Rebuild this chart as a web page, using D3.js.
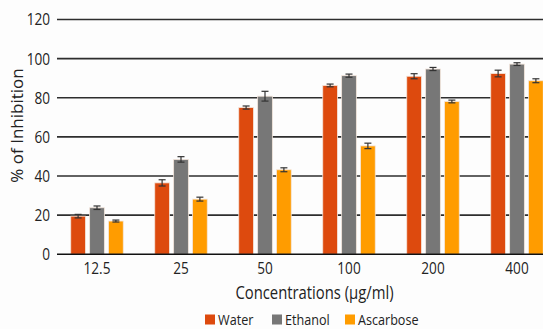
<!DOCTYPE html>
<html>
<head>
<meta charset="utf-8">
<script src="https://cdn.jsdelivr.net/npm/d3@7"></script>
<style>
  html, body { margin: 0; padding: 0; background: #fdfdfd; }
  svg { display: block; }
  text { font-family: "Open Sans", "Noto Sans", sans-serif; fill: #222; }
</style>
</head>
<body>
<svg id="chart" width="543" height="329"></svg>
<script>
// Concentrations tested and the % inhibition measured for each extract
const categories = ["12.5", "25", "50", "100", "200", "400"];
const seriesNames = ["Water", "Ethanol", "Ascarbose"];
const water     = [19.5, 36.5, 75.0, 86.3, 91.0, 92.4];
const ethanol   = [23.8, 48.5, 80.8, 91.3, 94.7, 97.2];
const ascarbose = [17.0, 28.2, 43.2, 55.4, 78.1, 88.7];
const waterErr     = [0.9, 1.6, 0.8, 0.7, 1.3, 1.7];
const ethanolErr   = [0.9, 1.4, 2.5, 0.8, 0.8, 0.7];
const ascarboseErr = [0.5, 1.0, 1.0, 1.4, 0.7, 1.0];
const yTicks = [0, 20, 40, 60, 80, 100, 120];
const colors = ["#dd4a0e", "#777777", "#ff9c00"];

const values = [water, ethanol, ascarbose];
const errors = [waterErr, ethanolErr, ascarboseErr];

const svg = d3.select("#chart");
const plotLeft = 57, plotTop = 19.5, plotBottom = 254.3;

// narrow the lettering horizontally (condensed look)
function condense(sel, k) {
  sel.each(function () {
    const len = this.getComputedTextLength();
    d3.select(this).attr("textLength", len * k).attr("lengthAdjust", "spacingAndGlyphs");
  });
}

const x = d3.scaleBand().domain(categories).range([55, 559]).paddingInner(0).paddingOuter(0);
const y = d3.scaleLinear().domain([0, 120]).range([plotBottom, plotTop]);
const xs = d3.scaleBand().domain(seriesNames).range([0, 52.5]).paddingInner(0.22);
const groupOffset = (x.bandwidth() - 52.5) / 2;

// horizontal gridlines
svg.append("g")
  .selectAll("line")
  .data(yTicks.filter(d => d > 0))
  .join("line")
  .attr("x1", plotLeft).attr("x2", 543)
  .attr("y1", d => y(d)).attr("y2", d => y(d))
  .attr("stroke", "#2e2e2e").attr("stroke-width", 1.6);

// y-axis tick labels
const yAxis = d3.axisLeft(y).tickValues(yTicks).tickSize(0).tickPadding(7);
const gy = svg.append("g").attr("transform", `translate(${plotLeft},0)`).call(yAxis);
gy.select(".domain").remove();
gy.selectAll("text")
  .style("font-family", "'Open Sans', sans-serif")
  .style("font-size", "17px").attr("fill", "#222")
  .call(condense, 0.8);

// bars
const rows = [];
seriesNames.forEach((s, si) => {
  categories.forEach((c, ci) => {
    rows.push({ s, si, c, v: values[si][ci], e: errors[si][ci] });
  });
});

const barG = svg.append("g");
barG.selectAll("rect")
  .data(rows)
  .join("rect")
  .attr("x", d => x(d.c) + groupOffset + xs(d.s))
  .attr("width", xs.bandwidth())
  .attr("y", d => y(d.v))
  .attr("height", d => y(0) - y(d.v))
  .attr("fill", d => colors[d.si])
  .attr("stroke", "#f4e6dc").attr("stroke-width", 0.8);

// error bars
const errG = svg.append("g").attr("stroke", "#333").attr("stroke-width", 1.2);
rows.forEach(d => {
  const cx = x(d.c) + groupOffset + xs(d.s) + xs.bandwidth() / 2;
  const y1 = y(d.v + d.e), y2 = y(d.v - d.e);
  errG.append("line").attr("x1", cx).attr("x2", cx).attr("y1", y1).attr("y2", y2);
  errG.append("line").attr("x1", cx - 3.5).attr("x2", cx + 3.5).attr("y1", y1).attr("y2", y1);
  errG.append("line").attr("x1", cx - 3.5).attr("x2", cx + 3.5).attr("y1", y2).attr("y2", y2);
});

// baseline
svg.append("line")
  .attr("x1", plotLeft).attr("x2", 543)
  .attr("y1", y(0)).attr("y2", y(0))
  .attr("stroke", "#111").attr("stroke-width", 1.6);

// x-axis labels
const xAxis = d3.axisBottom(x).tickSize(0).tickPadding(8);
const gx = svg.append("g").attr("transform", `translate(0,${plotBottom})`).call(xAxis);
gx.select(".domain").remove();
gx.selectAll("text")
  .style("font-family", "'Open Sans', sans-serif")
  .style("font-size", "17px").attr("fill", "#222")
  .call(condense, 0.8);

// axis titles
svg.append("text")
  .attr("transform", `translate(23,125.5) rotate(-90)`)
  .attr("text-anchor", "middle")
  .style("font-size", "17px")
  .text("% of Inhibition");

svg.append("text")
  .attr("x", 314.5).attr("y", 299)
  .attr("text-anchor", "middle")
  .style("font-size", "19px")
  .text("Concentrations (µg/ml)")
  .call(condense, 0.78);

// legend
const legendX = [205, 272, 345];
const lg = svg.append("g");
seriesNames.forEach((s, i) => {
  lg.append("rect")
    .attr("x", legendX[i]).attr("y", 314.5)
    .attr("width", 10).attr("height", 10)
    .attr("fill", colors[i]);
  lg.append("text")
    .attr("x", legendX[i] + 13).attr("y", 324.5)
    .style("font-size", "15px")
    .text(s)
    .call(condense, 0.84);
});
</script>
</body>
</html>
